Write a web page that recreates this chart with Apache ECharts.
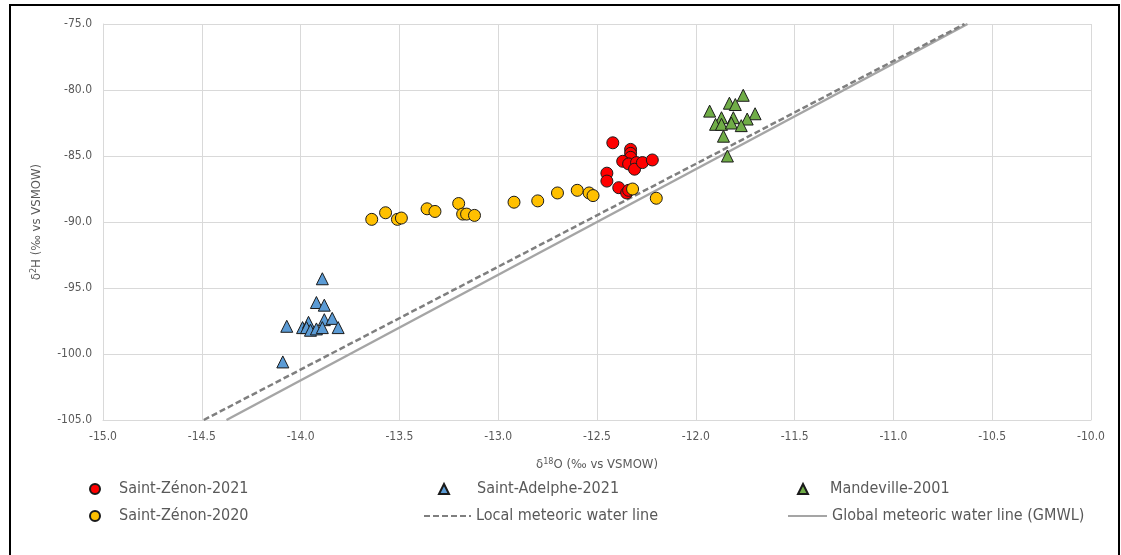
<!DOCTYPE html>
<html>
<head>
<meta charset="utf-8">
<script src="https://cdn.jsdelivr.net/npm/echarts@6/dist/echarts.min.js"></script>
<style>
  html, body { margin: 0; padding: 0; background: #fff; }
  #frame { position: absolute; left: 9px; top: 4px; width: 1111px; height: 570px; border: 2px solid #000; box-sizing: border-box; }
  #chart { position: absolute; left: 0; top: 0; width: 1121px; height: 555px; }
</style>
</head>
<body>
<div id="frame"></div>
<div id="chart"></div>
<script>
// Isotope samples: [δ18O, δ2H] in ‰ vs VSMOW
const stZenon2021 = [
  [-12.42, -84.0], [-12.33, -84.5], [-12.33, -84.8], [-12.33, -85.1], [-12.37, -85.4],
  [-12.34, -85.6], [-12.30, -85.5], [-12.31, -86.0], [-12.27, -85.5], [-12.22, -85.3],
  [-12.45, -86.3], [-12.45, -86.9], [-12.39, -87.4], [-12.35, -87.8], [-12.34, -87.6]
];
const stAdelphe2021 = [
  [-13.89, -94.3], [-13.92, -96.1], [-13.88, -96.3], [-13.88, -97.4], [-13.84, -97.3],
  [-13.81, -98.0], [-14.07, -97.9], [-13.99, -98.0], [-13.96, -97.6], [-13.97, -98.0],
  [-13.95, -98.2], [-13.92, -98.1], [-13.89, -98.0], [-14.09, -100.6]
];
const mandeville2001 = [
  [-11.76, -80.4], [-11.83, -81.0], [-11.80, -81.1], [-11.93, -81.6], [-11.70, -81.8],
  [-11.87, -82.1], [-11.81, -82.1], [-11.74, -82.2], [-11.90, -82.6], [-11.87, -82.6],
  [-11.82, -82.5], [-11.77, -82.7], [-11.86, -83.5], [-11.84, -85.0]
];
const stZenon2020 = [
  [-13.64, -89.8], [-13.57, -89.3], [-13.51, -89.8], [-13.49, -89.7], [-13.36, -89.0],
  [-13.32, -89.2], [-13.20, -88.6], [-13.18, -89.4], [-13.16, -89.4], [-13.12, -89.5],
  [-12.92, -88.5], [-12.80, -88.4], [-12.70, -87.8], [-12.60, -87.6], [-12.54, -87.8],
  [-12.52, -88.0], [-12.32, -87.5], [-12.20, -88.2]
];
// Water lines (end points)
const localLine = [[-14.49, -105.0], [-10.64, -75.0]];
const globalLine = [[-14.375, -105.0], [-10.625, -75.0]];

const xTicks = { min: -15, max: -10, step: 0.5 };
const yTicks = { min: -105, max: -75, step: 5 };

const FONT = "'Liberation Sans Narrow', 'DejaVu Sans Condensed', sans-serif";
const GREY = '#595959';

const chart = echarts.init(document.getElementById('chart'), null, { renderer: 'canvas' });

function markerSeries(name, data, symbol, color) {
  return {
    name, type: 'scatter', data, symbol, symbolSize: 12,
    itemStyle: { color, borderColor: '#1a1a1a', borderWidth: 1, opacity: 1 },
    emphasis: { disabled: true }
  };
}

function legendItem(name, left, top, w, h, padLeft, hideSymbol) {
  const item = {
    data: [name], left, top, itemWidth: w, itemHeight: h, selectedMode: false,
    textStyle: { fontFamily: FONT, fontSize: 16, color: GREY, padding: [0, 0, 0, padLeft] }
  };
  if (hideSymbol) item.itemStyle = { opacity: 0, borderWidth: 0 };
  return item;
}

chart.setOption({
  animation: false,
  grid: { left: 103, right: 30, top: 24, bottom: 135 },
  legend: [
    legendItem('Saint-Zénon-2021', 84, 476, 10, 10, 14),
    legendItem('Saint-Zénon-2020', 84, 503, 10, 10, 14),
    legendItem('Saint-Adelphe-2021', 433, 476, 10, 10, 23),
    legendItem('Local meteoric water line', 418, 503, 47, 10, 0, true),
    legendItem('Mandeville-2001', 792, 476, 10, 10, 17),
    legendItem('Global meteoric water line (GMWL)', 782, 503, 39, 10, 0, true)
  ],
  xAxis: {
    type: 'value', min: xTicks.min, max: xTicks.max, interval: xTicks.step,
    name: 'δ{s|18}O (‰ vs VSMOW)', nameLocation: 'middle', nameGap: 37,
    nameTextStyle: {
      fontFamily: FONT, fontSize: 13, color: GREY,
      rich: {
        s: { fontFamily: FONT, fontSize: 9, color: GREY, verticalAlign: 'top', lineHeight: 16 }
      }
    },
    axisLine: { show: true, lineStyle: { color: '#D9D9D9', width: 1 } },
    axisTick: { show: false },
    splitLine: { show: true, lineStyle: { color: '#D9D9D9', width: 1 } },
    axisLabel: { fontFamily: FONT, fontSize: 12, color: GREY, margin: 11, formatter: v => v.toFixed(1) }
  },
  yAxis: {
    type: 'value', min: yTicks.min, max: yTicks.max, interval: yTicks.step,
    name: 'δ{s|2}H (‰ vs VSMOW)', nameLocation: 'middle', nameGap: 58, nameRotate: 90,
    nameTextStyle: {
      fontFamily: FONT, fontSize: 13, color: GREY,
      rich: {
        s: { fontFamily: FONT, fontSize: 9, color: GREY, verticalAlign: 'top', lineHeight: 16 }
      }
    },
    axisLine: { show: true, lineStyle: { color: '#D9D9D9', width: 1 } },
    axisTick: { show: false },
    splitLine: { show: true, lineStyle: { color: '#D9D9D9', width: 1 } },
    axisLabel: { fontFamily: FONT, fontSize: 12, color: GREY, margin: 11, formatter: v => v.toFixed(1) }
  },
  series: [
    {
      name: 'Global meteoric water line (GMWL)', type: 'line', data: globalLine,
      symbol: 'none', clip: true, z: 1,
      lineStyle: { color: '#A5A5A5', width: 2.5, type: 'solid' },
      itemStyle: { color: '#A5A5A5' }, emphasis: { disabled: true }
    },
    {
      name: 'Local meteoric water line', type: 'line', data: localLine,
      symbol: 'none', clip: true, z: 1,
      lineStyle: { color: '#7F7F7F', width: 2.5, type: [6, 3] },
      itemStyle: { color: '#7F7F7F' }, emphasis: { disabled: true }
    },
    markerSeries('Saint-Zénon-2021', stZenon2021, 'circle', '#FF0000'),
    markerSeries('Saint-Adelphe-2021', stAdelphe2021, 'triangle', '#5B9BD5'),
    markerSeries('Mandeville-2001', mandeville2001, 'triangle', '#70AD47'),
    markerSeries('Saint-Zénon-2020', stZenon2020, 'circle', '#FFC000')
  ]
});
</script>
</body>
</html>
